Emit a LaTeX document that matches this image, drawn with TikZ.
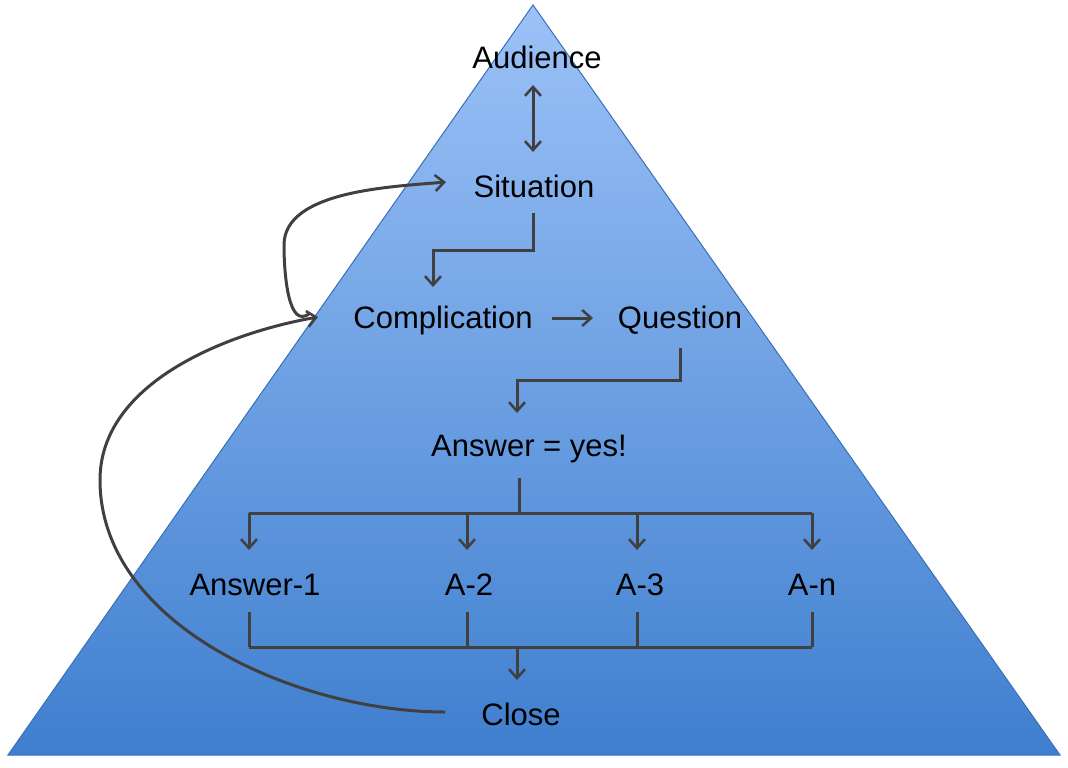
\documentclass[tikz,border=0pt]{standalone}
\usepackage{fontspec}
\setmainfont{Liberation Sans}
\usetikzlibrary{arrows.meta}
\definecolor{topb}{HTML}{9CC2F7}
\definecolor{botb}{HTML}{3F7FCF}
\definecolor{edgeb}{HTML}{3A6FB8}
\definecolor{ln}{HTML}{404040}
\begin{document}
\begin{tikzpicture}[x=1pt,y=-1pt,
  lbl/.style={font=\fontsize{31}{31}\selectfont,inner sep=0pt},
  con/.style={draw=ln,line width=3pt,-{Straight Barb[length=9pt,width=16pt,line width=2.5pt]}},
  bus/.style={draw=ln,line width=3pt}]
\useasboundingbox (0,0) rectangle (1068,768);
\shade[top color=topb,bottom color=botb,draw=edgeb,line width=1pt] (533,5) -- (1060,755) -- (8,755) -- cycle;
\node[lbl] (aud) at (537,57) {Audience};
\node[lbl] (sit) at (534,186) {Situation};
\node[lbl] (com) at (443,320) {Complication};
\node[lbl] (que) at (680,320) {Question};
\node[lbl] (ans) at (529,449) {Answer = yes!};
\node[lbl] (a1) at (255,585) {Answer-1};
\node[lbl] (a2) at (469,585) {A-2};
\node[lbl] (a3) at (640,585) {A-3};
\node[lbl] (an) at (812,585) {A-n};
\node[lbl] (clo) at (521,714) {Close};
\coordinate (b1) at (249,513);
\coordinate (b2) at (812,513);
\coordinate (c1) at (249,647);
\coordinate (c2) at (812,647);
\draw[con,{Straight Barb[length=9pt,width=16pt,line width=2.5pt]}-{Straight Barb[length=9pt,width=16pt,line width=2.5pt]}] (533,85) -- (533,152);
\draw[con] (533,213) -- (533,250) -- (433,250) -- (433,287);
\draw[con] (552,318) -- (593,318);
\draw[con] (680,348) -- (680,380) -- (517,380) -- (517,413);
\draw[bus] (519,478) -- (519,513);
\draw[bus] (b1) -- (b2);
\foreach \x in {249,467,637,812} \draw[con] (\x,513) -- (\x,550);
\foreach \x in {249,467,637,812} \draw[bus] (\x,612) -- (\x,647);
\draw[bus] (c1) -- (c2);
\draw[con] (517,647) -- (517,680);
\draw[con] (445,712) to[out=180,in=270,looseness=0.9] (100,480) to[out=90,in=190,looseness=0.9] (318,317);
\draw[con] (310,313) to[out=220,in=270] (284,245) to[out=90,in=185,looseness=0.8] (446,182);
\end{tikzpicture}
\end{document}
